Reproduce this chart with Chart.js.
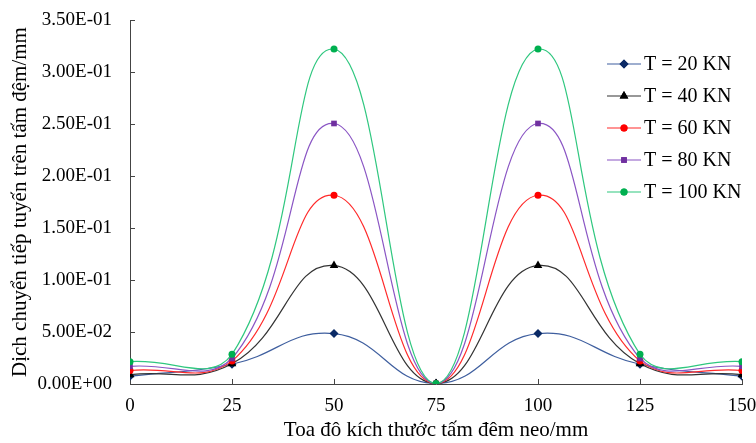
<!DOCTYPE html>
<html>
<head>
<meta charset="utf-8">
<script src="https://cdn.jsdelivr.net/npm/chart.js@4.4.0/dist/chart.umd.min.js"></script>
<style>
  html, body { margin: 0; padding: 0; background: #fff; }
  #wrap { width: 756px; height: 443px; }
</style>
</head>
<body>
<div id="wrap"><canvas id="chart"></canvas></div>
<script>
// toa do (mm)
var toaDo = [0, 25, 50, 75, 100, 125, 150];

var seriesNames = ['T = 20 KN', 'T = 40 KN', 'T = 60 KN', 'T = 80 KN', 'T = 100 KN'];

var t20  = [0.0075, 0.0190, 0.0485, 0.0005, 0.0485, 0.0190, 0.0075];
var t40  = [0.0090, 0.0195, 0.1140, 0.0005, 0.1140, 0.0195, 0.0090];
var t60  = [0.0130, 0.0220, 0.1815, 0.0005, 0.1815, 0.0220, 0.0130];
var t80  = [0.0170, 0.0245, 0.2505, 0.0005, 0.2505, 0.0245, 0.0170];
var t100 = [0.0215, 0.0285, 0.3220, 0.0005, 0.3220, 0.0285, 0.0215];

var yTicks = [0, 0.05, 0.10, 0.15, 0.20, 0.25, 0.30, 0.35];

var FONT = '"Liberation Serif", "Times New Roman", serif';

function fmtE(v) {
  var s = Number(v).toExponential(2).toUpperCase();
  var parts = s.split('E');
  var exp = parseInt(parts[1], 10);
  var sign = exp < 0 ? '-' : '+';
  var e = Math.abs(exp);
  return parts[0] + 'E' + sign + (e < 10 ? '0' + e : e);
}

function pts(vals) {
  return toaDo.map(function (x, i) { return { x: x, y: vals[i] }; });
}

var styles = [
  { line: '#3f5f9f', mark: '#0b2a66', shape: 'rectRot', r: 4.5 },
  { line: '#333333', mark: '#000000', shape: 'triangle', r: 5 },
  { line: '#ff2a2a', mark: '#ff0000', shape: 'circle', r: 3.5 },
  { line: '#8a55c4', mark: '#7030a0', shape: 'rect', r: 4 },
  { line: '#2fc77f', mark: '#00b050', shape: 'circle', r: 3.5 }
];
var allVals = [t20, t40, t60, t80, t100];

var datasets = allVals.map(function (v, i) {
  var s = styles[i];
  return {
    label: seriesNames[i],
    data: pts(v),
    borderColor: s.line,
    borderWidth: 1.2,
    backgroundColor: s.mark,
    pointBackgroundColor: s.mark,
    pointBorderColor: s.mark,
    pointBorderWidth: 0,
    pointStyle: s.shape,
    pointRadius: s.r,
    tension: 0.45,
    order: 5 - i
  };
});

// excel style: tick marks point inward
var innerTicks = {
  id: 'innerTicks',
  beforeDatasetsDraw: function (chart) {
    var ctx = chart.ctx;
    var xs = chart.scales.x, ys = chart.scales.y;
    ctx.save();
    ctx.strokeStyle = '#444';
    ctx.lineWidth = 1;
    ctx.beginPath();
    xs.ticks.forEach(function (t) {
      var px = Math.round(xs.getPixelForValue(t.value)) + 0.5;
      ctx.moveTo(px, ys.bottom);
      ctx.lineTo(px, ys.bottom - 5);
    });
    ys.ticks.forEach(function (t) {
      var py = Math.round(ys.getPixelForValue(t.value)) + 0.5;
      ctx.moveTo(xs.left, py);
      ctx.lineTo(xs.left + 5, py);
    });
    ctx.stroke();
    ctx.restore();
  }
};

// legend drawn over the plot, like the excel one
var legendOverlay = {
  id: 'legendOverlay',
  afterDraw: function (chart) {
    var ctx = chart.ctx;
    ctx.save();
    ctx.font = '20px ' + FONT;
    ctx.textBaseline = 'middle';
    chart.data.datasets.forEach(function (ds, i) {
      var y = 64 + i * 32;
      var x0 = 607, x1 = 641;
      ctx.strokeStyle = ds.borderColor;
      ctx.lineWidth = 1.2;
      ctx.beginPath();
      ctx.moveTo(x0, y);
      ctx.lineTo(x1, y);
      ctx.stroke();
      ctx.fillStyle = ds.pointBackgroundColor;
      Chart.helpers.drawPoint(ctx, {
        pointStyle: ds.pointStyle,
        radius: ds.pointRadius,
        borderWidth: 0
      }, (x0 + x1) / 2, y);
      ctx.fill();
      ctx.fillStyle = '#000';
      ctx.fillText(ds.label, 644, y + 1);
    });
    ctx.restore();
  }
};

var ctx = document.getElementById('chart');
new Chart(ctx, {
  type: 'line',
  data: { datasets: datasets },
  plugins: [innerTicks, legendOverlay],
  options: {
    responsive: true,
    maintainAspectRatio: false,
    animation: false,
    layout: { padding: { left: 8, right: 0, top: 20, bottom: 0 } },
    plugins: {
      legend: { display: false },
      tooltip: { enabled: false }
    },
    scales: {
      x: {
        type: 'linear',
        min: 0,
        max: 150,
        ticks: {
          stepSize: 25,
          color: '#000',
          font: { family: FONT, size: 19 },
          padding: 11
        },
        grid: { display: false, drawTicks: false },
        border: { color: '#444', width: 1 },
        title: {
          display: true,
          text: 'Toa đô kích thước tấm đêm neo/mm',
          color: '#000',
          font: { family: FONT, size: 21 },
          padding: { top: 2, bottom: 0 }
        },
        afterFit: function (scale) {
          scale.height = 59;
          scale.paddingRight = 14;
          scale.paddingLeft = 0;
        }
      },
      y: {
        min: 0,
        max: 0.35,
        afterBuildTicks: function (scale) {
          scale.ticks = yTicks.map(function (v) { return { value: v }; });
        },
        ticks: {
          color: '#000',
          font: { family: FONT, size: 19 },
          padding: 18,
          callback: function (v) { return fmtE(v); }
        },
        grid: { display: false, drawTicks: false },
        border: { color: '#444', width: 1 },
        title: {
          display: true,
          text: 'Dịch chuyển tiếp tuyến trên tấm đệm/mm',
          color: '#000',
          font: { family: FONT, size: 21 },
          padding: { top: 0, bottom: 2 }
        },
        afterFit: function (scale) {
          scale.width = 122;
          scale.paddingTop = 0;
          scale.paddingBottom = 0;
        }
      }
    }
  }
});
</script>
</body>
</html>
